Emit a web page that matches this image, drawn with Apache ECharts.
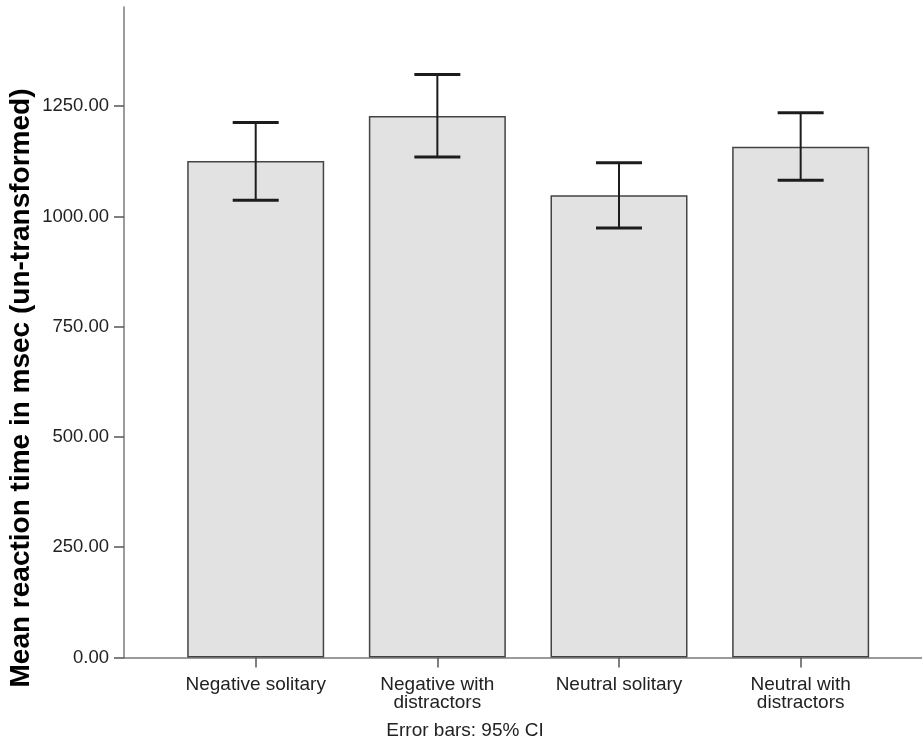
<!DOCTYPE html>
<html>
<head>
<meta charset="utf-8">
<script src="https://cdn.jsdelivr.net/npm/echarts@6/dist/echarts.min.js"></script>
<style>
  html, body { margin: 0; padding: 0; background: #ffffff; }
  #chart { width: 922px; height: 742px; }
</style>
</head>
<body>
<div id="chart"></div>
<script>
// Mean reaction time per condition with 95% confidence intervals
const categories = ['Negative solitary', 'Negative with\ndistractors', 'Neutral solitary', 'Neutral with\ndistractors'];
const meanRT = [1126, 1228, 1048, 1158];
const ciLower = [1037, 1135, 974, 1082];
const ciUpper = [1213, 1322, 1122, 1235];
const yTicks = [0, 250, 500, 750, 1000, 1250];
const yTitle = 'Mean reaction time in msec (un-transformed)';
const footnote = 'Error bars: 95% CI';

const positions = categories.map((_, i) => i);
const FONT = '"Liberation Sans", Arial, sans-serif';
const AXIS_COLOR = '#7a7a7a';
const TEXT_COLOR = '#222222';

const chart = echarts.init(document.getElementById('chart'), null, { renderer: 'canvas' });

const option = {
  animation: false,
  backgroundColor: '#ffffff',
  grid: { left: 124, right: 0, top: 7, bottom: 84.5, outerBoundsMode: 'none' },
  xAxis: {
    type: 'value',
    min: -0.725,
    max: 3.668,
    splitLine: { show: false },
    axisLine: { show: true, onZero: false, lineStyle: { color: AXIS_COLOR, width: 1.5 } },
    axisTick: { show: true, customValues: positions, length: 10, lineStyle: { color: '#555', width: 1.5 } },
    axisLabel: {
      customValues: positions,
      formatter: (v) => categories[Math.round(v)],
      margin: 18,
      fontFamily: FONT,
      fontSize: 19,
      lineHeight: 18,
      color: TEXT_COLOR,
      align: 'center'
    }
  },
  yAxis: {
    type: 'value',
    min: 0,
    max: 1475,
    splitLine: { show: false },
    axisLine: { show: true, onZero: false, lineStyle: { color: AXIS_COLOR, width: 1.5 } },
    axisTick: { show: true, customValues: yTicks, length: 10, lineStyle: { color: '#555', width: 1.5 } },
    axisLabel: {
      customValues: yTicks,
      formatter: (v) => v.toFixed(2),
      margin: 15,
      fontFamily: FONT,
      fontSize: 18.5,
      color: TEXT_COLOR
    }
  },
  series: [
    {
      type: 'bar',
      barWidth: 137,
      data: positions.map((p, i) => [p, meanRT[i]]),
      itemStyle: { color: '#e2e2e2', borderColor: '#444444', borderWidth: 1.5 },
      z: 2
    },
    {
      type: 'custom',
      z: 5,
      data: positions.map((p, i) => [p, ciLower[i], ciUpper[i]]),
      renderItem: (params, api) => {
        const x = api.value(0);
        const lo = api.coord([x, api.value(1)]);
        const hi = api.coord([x, api.value(2)]);
        const half = 23;
        const stroke = { stroke: '#1c1c1c', lineWidth: 2 };
        const cap = { stroke: '#1c1c1c', lineWidth: 3 };
        return {
          type: 'group',
          children: [
            { type: 'line', shape: { x1: lo[0], y1: lo[1], x2: hi[0], y2: hi[1] }, style: stroke },
            { type: 'line', shape: { x1: hi[0] - half, y1: hi[1], x2: hi[0] + half, y2: hi[1] }, style: cap },
            { type: 'line', shape: { x1: lo[0] - half, y1: lo[1], x2: lo[0] + half, y2: lo[1] }, style: cap }
          ]
        };
      }
    }
  ],
  graphic: [
    {
      type: 'text',
      x: 21,
      y: 388,
      rotation: Math.PI / 2,
      style: {
        text: yTitle,
        fontFamily: FONT,
        fontWeight: 'bold',
        fontSize: 28,
        fill: '#000000',
        align: 'center',
        verticalAlign: 'middle'
      }
    },
    {
      type: 'text',
      x: 465,
      y: 731,
      style: {
        text: footnote,
        fontFamily: FONT,
        fontSize: 19,
        fill: TEXT_COLOR,
        align: 'center',
        verticalAlign: 'middle'
      }
    }
  ]
};

chart.setOption(option);
</script>
</body>
</html>
